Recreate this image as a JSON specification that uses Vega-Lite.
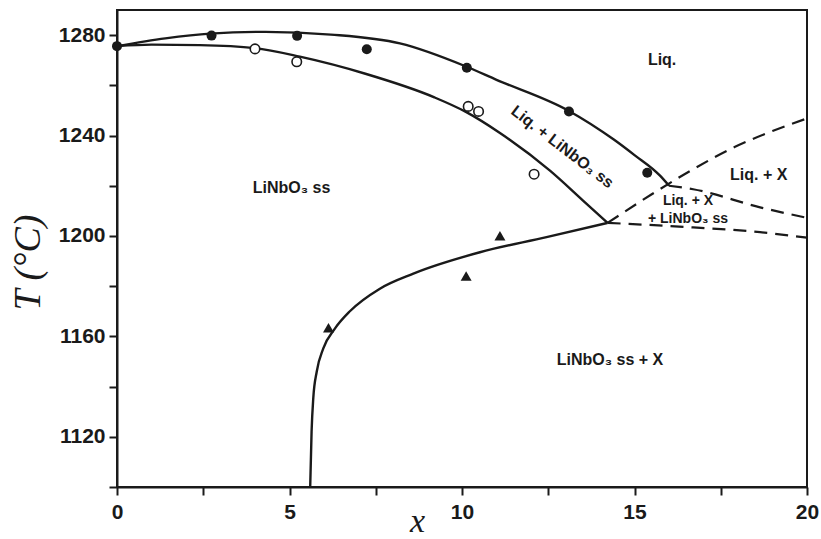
{
  "$schema": "https://vega.github.io/schema/vega-lite/v6.json",
  "width": 690,
  "height": 477,
  "autosize": {"type": "none"},
  "padding": {"left": 117, "top": 10, "right": 14, "bottom": 52},
  "background": "white",
  "config": {
    "view": {"stroke": "#1a1a1a", "strokeWidth": 2},
    "axis": {
      "grid": false,
      "domainColor": "#1a1a1a",
      "domainWidth": 2,
      "tickColor": "#1a1a1a",
      "tickWidth": 2,
      "tickSize": 8,
      "labelFont": "Liberation Sans",
      "labelFontWeight": "bold",
      "labelFontSize": 21,
      "labelColor": "#1a1a1a",
      "titleFont": "Liberation Serif",
      "titleFontStyle": "italic",
      "titleFontWeight": "normal",
      "titleColor": "#1a1a1a"
    }
  },
  "datasets": {
    "boundaries": [
      {"curve": "liquidus", "x": 0, "T": 1275.6},
      {"curve": "liquidus", "x": 1.4, "T": 1278.7},
      {"curve": "liquidus", "x": 2.7, "T": 1280.6},
      {"curve": "liquidus", "x": 4.3, "T": 1281.3},
      {"curve": "liquidus", "x": 6.2, "T": 1280.2},
      {"curve": "liquidus", "x": 8.2, "T": 1276.7},
      {"curve": "liquidus", "x": 10.1, "T": 1267.6},
      {"curve": "liquidus", "x": 11.0, "T": 1262.2},
      {"curve": "liquidus", "x": 13.1, "T": 1249.8},
      {"curve": "liquidus", "x": 14.4, "T": 1238.4},
      {"curve": "liquidus", "x": 15.0, "T": 1232.2},
      {"curve": "liquidus", "x": 15.74, "T": 1224},
      {"curve": "liquidus", "x": 16.0, "T": 1220},
      {"curve": "solidus", "x": 0, "T": 1275.6},
      {"curve": "solidus", "x": 1.0, "T": 1276.2},
      {"curve": "solidus", "x": 2.4, "T": 1276},
      {"curve": "solidus", "x": 4.0, "T": 1274.8},
      {"curve": "solidus", "x": 5.3, "T": 1271.4},
      {"curve": "solidus", "x": 7.2, "T": 1264.6},
      {"curve": "solidus", "x": 9.2, "T": 1255.2},
      {"curve": "solidus", "x": 10.1, "T": 1249.5},
      {"curve": "solidus", "x": 11.1, "T": 1241},
      {"curve": "solidus", "x": 12.55, "T": 1226},
      {"curve": "solidus", "x": 13.5, "T": 1214.2},
      {"curve": "solidus", "x": 14.22, "T": 1205.2},
      {"curve": "solvus", "x": 5.6, "T": 1100},
      {"curve": "solvus", "x": 5.64, "T": 1122},
      {"curve": "solvus", "x": 5.69, "T": 1135.5},
      {"curve": "solvus", "x": 5.79, "T": 1146},
      {"curve": "solvus", "x": 5.98, "T": 1155.2},
      {"curve": "solvus", "x": 6.32, "T": 1163.2},
      {"curve": "solvus", "x": 6.75, "T": 1170},
      {"curve": "solvus", "x": 7.62, "T": 1179},
      {"curve": "solvus", "x": 8.59, "T": 1185},
      {"curve": "solvus", "x": 10.52, "T": 1193.5},
      {"curve": "solvus", "x": 12.45, "T": 1199.5},
      {"curve": "solvus", "x": 14.22, "T": 1205.2}
    ],
    "tentative": [
      {"curve": "liq-x upper", "x": 14.22, "T": 1205.2},
      {"curve": "liq-x upper", "x": 15.5, "T": 1216.6},
      {"curve": "liq-x upper", "x": 16.6, "T": 1225.8},
      {"curve": "liq-x upper", "x": 17.9, "T": 1235.4},
      {"curve": "liq-x upper", "x": 19.0, "T": 1241.8},
      {"curve": "liq-x upper", "x": 20.0, "T": 1246.8},
      {"curve": "liq-x lower", "x": 16.0, "T": 1220},
      {"curve": "liq-x lower", "x": 16.7, "T": 1218.6},
      {"curve": "liq-x lower", "x": 18.64, "T": 1211.4},
      {"curve": "liq-x lower", "x": 20.0, "T": 1207.2},
      {"curve": "three-phase base", "x": 14.22, "T": 1205.2},
      {"curve": "three-phase base", "x": 16.7, "T": 1203.4},
      {"curve": "three-phase base", "x": 18.64, "T": 1201.5},
      {"curve": "three-phase base", "x": 20.0, "T": 1199.3}
    ],
    "points": [
      {"series": "liquidus", "x": 0, "T": 1275.6},
      {"series": "liquidus", "x": 2.74, "T": 1279.8},
      {"series": "liquidus", "x": 5.22, "T": 1279.7},
      {"series": "liquidus", "x": 7.24, "T": 1274.4},
      {"series": "liquidus", "x": 10.14, "T": 1267},
      {"series": "liquidus", "x": 13.1, "T": 1249.6},
      {"series": "liquidus", "x": 15.37, "T": 1225.2},
      {"series": "solidus", "x": 4.0, "T": 1274.5},
      {"series": "solidus", "x": 5.21, "T": 1269.4},
      {"series": "solidus", "x": 10.18, "T": 1251.6},
      {"series": "solidus", "x": 10.48, "T": 1249.6},
      {"series": "solidus", "x": 12.09, "T": 1224.6},
      {"series": "solvus", "x": 6.13, "T": 1163.4},
      {"series": "solvus", "x": 10.12, "T": 1184},
      {"series": "solvus", "x": 11.1, "T": 1200.1}
    ],
    "regionLabels": [
      {"x": 15.8, "T": 1270, "text": "Liq."},
      {"x": 18.6, "T": 1224.3, "text": "Liq. + X"},
      {"x": 5.06, "T": 1218.9, "text": "LiNbO₃ ss"},
      {"x": 14.29, "T": 1150.6, "text": "LiNbO₃ ss + X"}
    ],
    "threePhaseLabels": [
      {"x": 16.55, "T": 1214, "text": "Liq. + X"},
      {"x": 16.55, "T": 1206.6, "text": "+ LiNbO₃ ss"}
    ],
    "bandLabel": [
      {"x": 12.91, "T": 1235.4, "text": "Liq. + LiNbO₃ ss"}
    ]
  },
  "encoding": {
    "x": {
      "field": "x",
      "type": "quantitative",
      "scale": {"domain": [0, 20], "nice": false, "zero": false},
      "axis": {
        "title": "x",
        "titleFontSize": 34,
        "titleX": 300,
        "titleY": 34,
        "titleAlign": "center",
        "titleBaseline": "middle",
        "values": [0, 2.5, 5, 7.5, 10, 12.5, 15, 17.5, 20],
        "labelExpr": "datum.value % 5 === 0 ? format(datum.value, 'd') : ''",
        "labelPadding": 6,
        "labelFlush": false,
        "labelOverlap": false
      }
    },
    "y": {
      "field": "T",
      "type": "quantitative",
      "scale": {"domain": [1100, 1290], "nice": false, "zero": false},
      "axis": {
        "title": "T (°C)",
        "titleFontSize": 38,
        "titleX": -89,
        "titleY": 252,
        "titleAngle": -90,
        "titleAlign": "center",
        "titleBaseline": "middle",
        "values": [1100, 1120, 1140, 1160, 1180, 1200, 1220, 1240, 1260, 1280],
        "labelExpr": "datum.value % 40 === 0 ? format(datum.value, 'd') : ''",
        "labelPadding": 4,
        "labelOverlap": false
      }
    }
  },
  "layer": [
    {
      "data": {"name": "boundaries"},
      "mark": {"type": "line", "interpolate": "monotone", "stroke": "#1a1a1a", "strokeWidth": 2.4},
      "encoding": {"detail": {"field": "curve"}}
    },
    {
      "data": {"name": "tentative"},
      "mark": {"type": "line", "interpolate": "monotone", "stroke": "#1a1a1a", "strokeWidth": 2.2, "strokeDash": [13, 8]},
      "encoding": {"detail": {"field": "curve"}}
    },
    {
      "data": {"name": "points"},
      "transform": [{"filter": "datum.series === 'liquidus'"}],
      "mark": {"type": "point", "shape": "circle", "filled": true, "size": 100, "color": "#1a1a1a", "opacity": 1}
    },
    {
      "data": {"name": "points"},
      "transform": [{"filter": "datum.series === 'solidus'"}],
      "mark": {"type": "point", "shape": "circle", "filled": true, "size": 90, "fill": "white", "stroke": "#1a1a1a", "strokeWidth": 1.6, "opacity": 1}
    },
    {
      "data": {"name": "points"},
      "transform": [{"filter": "datum.series === 'solvus'"}],
      "mark": {"type": "point", "shape": "triangle-up", "filled": true, "size": 120, "color": "#1a1a1a", "opacity": 1}
    },
    {
      "data": {"name": "regionLabels"},
      "mark": {"type": "text", "font": "Liberation Sans", "fontWeight": "bold", "fontSize": 16, "color": "#1a1a1a", "align": "center", "baseline": "middle"},
      "encoding": {"text": {"field": "text"}}
    },
    {
      "data": {"name": "threePhaseLabels"},
      "mark": {"type": "text", "font": "Liberation Sans", "fontWeight": "bold", "fontSize": 14, "color": "#1a1a1a", "align": "center", "baseline": "middle"},
      "encoding": {"text": {"field": "text"}}
    },
    {
      "data": {"name": "bandLabel"},
      "mark": {"type": "text", "font": "Liberation Sans", "fontWeight": "bold", "fontSize": 16, "color": "#1a1a1a", "align": "center", "baseline": "middle", "angle": 37.6},
      "encoding": {"text": {"field": "text"}}
    }
  ]
}
